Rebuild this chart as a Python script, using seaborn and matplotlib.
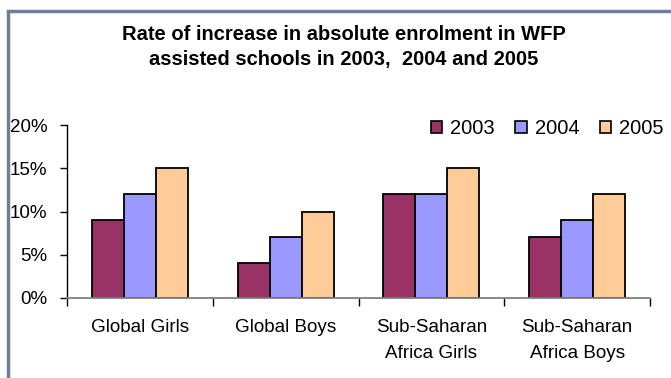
import matplotlib
matplotlib.use("Agg")
import matplotlib.pyplot as plt
import seaborn as sns
import pandas as pd
from matplotlib.patches import Rectangle
from matplotlib.ticker import FuncFormatter

categories = ["Global Girls", "Global Boys", "Sub-Saharan\nAfrica Girls", "Sub-Saharan\nAfrica Boys"]
years = ["2003", "2004", "2005"]
values_2003 = [9, 4, 12, 7]
values_2004 = [12, 7, 12, 9]
values_2005 = [15, 10, 15, 12]
colors = ["#993366", "#9999FF", "#FFCC99"]

rows = []
for yr, vals in zip(years, [values_2003, values_2004, values_2005]):
    for c, v in zip(categories, vals):
        rows.append({"category": c, "year": yr, "value": v})
df = pd.DataFrame(rows)

sns.set_style("white")
plt.rcParams["font.family"] = ["Liberation Sans", "DejaVu Sans"]
plt.rcParams["text.color"] = "black"
plt.rcParams["xtick.color"] = "black"
plt.rcParams["ytick.color"] = "black"
plt.rcParams["xtick.labelcolor"] = "black"
plt.rcParams["ytick.labelcolor"] = "black"

fig = plt.figure(figsize=(6.71, 3.78), dpi=100)
ax = fig.add_axes([67/671, 1-298/378, (650-67)/671, (298-125)/378])

sns.barplot(data=df, x="category", y="value", hue="year", order=categories,
            hue_order=years, palette=colors, width=0.66, gap=0,
            edgecolor="black", linewidth=1.3, ax=ax, saturation=1, errorbar=None,
            legend=False)

ax.set_ylim(0, 20)
ax.set_xlim(-0.5, 3.5)
ax.set_yticks([0, 5, 10, 15, 20])
ax.yaxis.set_major_formatter(FuncFormatter(lambda v, p: f"{int(v)}%"))
ax.set_xlabel("")
ax.set_ylabel("")

for s in ["top", "right"]:
    ax.spines[s].set_visible(False)
ax.spines["left"].set_color("black")
ax.spines["left"].set_linewidth(1.0)
ax.spines["bottom"].set_color("#808080")
ax.spines["bottom"].set_linewidth(1.3)

ax.tick_params(axis="y", which="major", length=5, width=1, color="black",
               labelsize=13.5, pad=9, left=True)
ax.set_xticks(range(4))
ax.set_xticklabels(categories, fontsize=13.6, linespacing=1.7)
ax.tick_params(axis="x", which="major", length=0, pad=15)
ax.set_xticks([-0.5, 0.5, 1.5, 2.5, 3.5], minor=True)
ax.tick_params(axis="x", which="minor", length=6, width=1, color="black", bottom=True)

handles = [Rectangle((0, 0), 1, 1, facecolor=c, edgecolor="black", linewidth=1.2) for c in colors]
fig.legend(handles, years, ncol=3, loc="center right",
           bbox_to_anchor=(664/671, 1-129/378),
           frameon=False, fontsize=14.5, handlelength=0.55, handleheight=0.55,
           handletextpad=0.4, columnspacing=1.05, borderaxespad=0, borderpad=0)

fig.text(344/671, 1-35/378, "Rate of increase in absolute enrolment in WFP", ha="center",
         va="center", fontsize=14.5, fontweight="bold")
fig.text(344/671, 1-60/378, "assisted schools in 2003,  2004 and 2005", ha="center",
         va="center", fontsize=14.5, fontweight="bold")

fig.add_artist(Rectangle((8/671, -0.1), 1.2, 1.1 - 11/378, transform=fig.transFigure,
                         fill=False, edgecolor="#6E7F99", linewidth=2.5, clip_on=False))

fig.savefig("out.png", dpi=100)
